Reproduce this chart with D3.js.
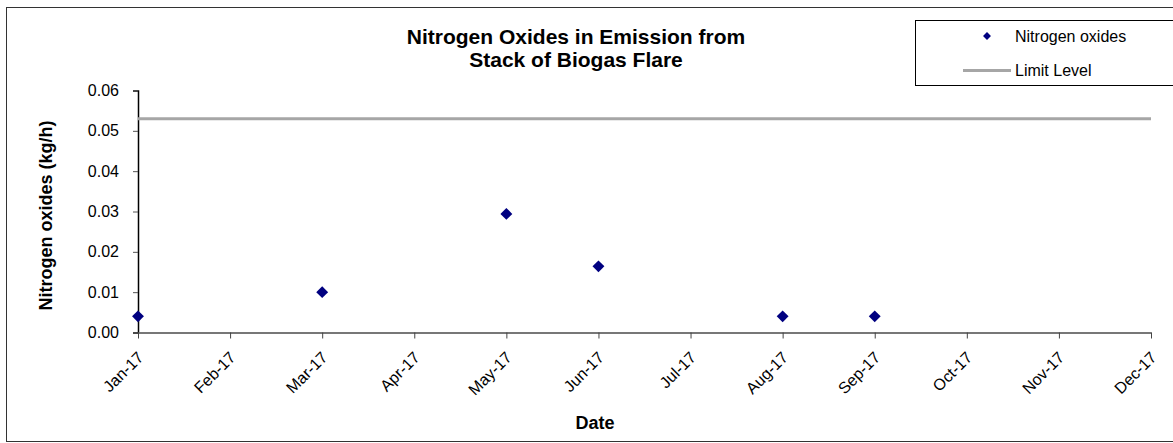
<!DOCTYPE html>
<html>
<head>
<meta charset="utf-8">
<script src="https://cdn.jsdelivr.net/npm/d3@7"></script>
<style>
body { margin: 0; background: #fff; }
text { font-family: Arial, "Liberation Sans", sans-serif; }
</style>
</head>
<body>
<script>
var months = ["Jan-17","Feb-17","Mar-17","Apr-17","May-17","Jun-17","Jul-17","Aug-17","Sep-17","Oct-17","Nov-17","Dec-17"];
var sampleMonths = ["Jan-17","Mar-17","May-17","Jun-17","Aug-17","Sep-17"];
var noxValues = [0.004, 0.010, 0.0294, 0.0164, 0.004, 0.004];
var limitLevel = 0.053;
var yTicks = [0, 0.01, 0.02, 0.03, 0.04, 0.05, 0.06];

var W = 1173, H = 443;
var pLeft = 138, pRight = 1151, pTop = 90.5, pBottom = 332.5;
var fontFam = "Arial, 'Liberation Sans', sans-serif";

var svg = d3.select("body").append("svg")
	.attr("width", W)
	.attr("height", H);

// outer chart border
svg.append("rect")
	.attr("x", 6.5).attr("y", 7.5)
	.attr("width", 1175).attr("height", 434)
	.attr("fill", "white")
	.attr("stroke", "#333")
	.attr("stroke-width", 1);

var x = d3.scalePoint().domain(months).range([pLeft, pRight]);
var y = d3.scaleLinear().domain([0, 0.06]).range([pBottom, pTop]);

// title
var title = svg.append("text")
	.attr("text-anchor", "middle")
	.attr("font-size", "21px").attr("font-weight", "bold");
title.append("tspan").attr("x", 576).attr("y", 44).text("Nitrogen Oxides in Emission from");
title.append("tspan").attr("x", 576).attr("y", 67).text("Stack of Biogas Flare");

// y axis
var yAxis = svg.append("g")
	.attr("transform", "translate(" + pLeft + ",0)")
	.call(d3.axisLeft(y).tickValues(yTicks).tickFormat(d3.format(".2f")).tickSize(5).tickPadding(14));
yAxis.select(".domain").attr("stroke", "#000").attr("stroke-width", 1.5);
yAxis.selectAll(".tick line").attr("stroke", "#555");
yAxis.selectAll(".tick text").attr("font-size", "16px").attr("fill", "#000")
	.attr("font-family", fontFam);

// x axis
var xAxis = svg.append("g")
	.attr("transform", "translate(0," + pBottom + ")")
	.call(d3.axisBottom(x).tickSize(6).tickSizeOuter(0));
xAxis.select(".domain").attr("stroke", "#777").attr("stroke-width", 2);
xAxis.selectAll(".tick line").attr("stroke", "#444");
xAxis.selectAll(".tick text")
	.attr("font-size", "16px").attr("fill", "#000")
	.attr("font-family", fontFam)
	.attr("text-anchor", "end")
	.attr("dy", "0.35em")
	.attr("transform", "translate(2,22) rotate(-45)")
	.attr("y", 0).attr("x", 0);

// axis titles
svg.append("text")
	.attr("transform", "translate(52," + ((pTop + pBottom) / 2 + 4) + ") rotate(-90)")
	.attr("text-anchor", "middle")
	.attr("font-size", "18px").attr("font-weight", "bold")
	.text("Nitrogen oxides (kg/h)");

svg.append("text")
	.attr("x", 595).attr("y", 429)
	.attr("text-anchor", "middle")
	.attr("font-size", "18px").attr("font-weight", "bold")
	.text("Date");

// limit line
svg.append("line")
	.attr("x1", pLeft).attr("x2", pRight)
	.attr("y1", y(limitLevel)).attr("y2", y(limitLevel))
	.attr("stroke", "#a6a6a6").attr("stroke-width", 3);

// points
var diamond = d3.symbol().type(d3.symbolDiamond2).size(90);
svg.selectAll("path.pt").data(sampleMonths).enter()
	.append("path")
	.attr("class", "pt")
	.attr("d", diamond)
	.attr("transform", (d, i) => "translate(" + x(d) + "," + y(noxValues[i]) + ")")
	.attr("fill", "#000080");

// legend
var lg = svg.append("g");
lg.append("rect")
	.attr("x", 915.5).attr("y", 20.5)
	.attr("width", 260).attr("height", 65)
	.attr("fill", "white").attr("stroke", "#000").attr("stroke-width", 1);
lg.append("path")
	.attr("d", d3.symbol().type(d3.symbolDiamond2).size(40))
	.attr("transform", "translate(987,36)")
	.attr("fill", "#000080");
lg.append("text").attr("x", 1015).attr("y", 42)
	.attr("font-size", "16px").text("Nitrogen oxides");
lg.append("line")
	.attr("x1", 963).attr("x2", 1011).attr("y1", 70.5).attr("y2", 70.5)
	.attr("stroke", "#a6a6a6").attr("stroke-width", 3);
lg.append("text").attr("x", 1015).attr("y", 76)
	.attr("font-size", "16px").text("Limit Level");
</script>
</body>
</html>
